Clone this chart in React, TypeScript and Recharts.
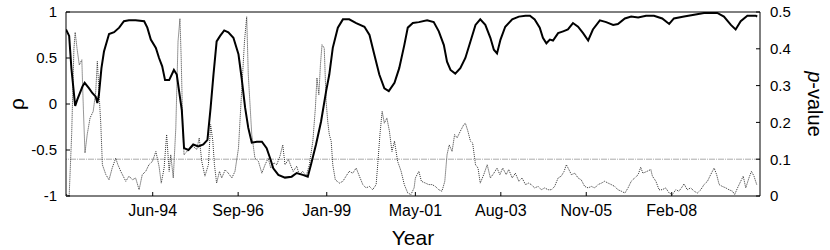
import React from 'react';
import { LineChart, Line, XAxis, YAxis, ReferenceLine } from 'recharts';

// x values are months counted from Jan-1992 (0 = Jan-92)
const tickMonths = [29, 56, 84, 112, 139, 166, 193];
const tickLabels = ['Jun-94', 'Sep-96', 'Jan-99', 'May-01', 'Aug-03', 'Nov-05', 'Feb-08'];
const rhoTicks = [-1, -0.5, 0, 0.5, 1];
const pTicks = [0, 0.1, 0.2, 0.3, 0.4, 0.5];
const pThreshold = 0.1;

const rhoSeries: [number, number][] = [
  [1.6, 0.81], [2.6, 0.74], [3.3, 0.39], [4.5, -0.02], [5.2, 0.05], [6.8, 0.19], [7.5, 0.23], [8.9, 0.17],
  [9.9, 0.12], [11.0, 0.08], [11.5, 0.01], [12.0, 0.1], [12.8, 0.39], [13.6, 0.57], [15.2, 0.76], [16.8, 0.78],
  [18.4, 0.83], [19.9, 0.9], [21.5, 0.91], [23.6, 0.91], [26.3, 0.9], [27.3, 0.83], [28.4, 0.7], [30.0, 0.61],
  [31.0, 0.5], [32.0, 0.41], [32.9, 0.26], [34.2, 0.26], [35.7, 0.37], [36.6, 0.32], [38.2, -0.07], [38.9, -0.48],
  [40.3, -0.5], [41.8, -0.44], [43.4, -0.46], [45.0, -0.44], [46.3, -0.39], [47.3, -0.04], [48.2, 0.32], [49.2, 0.68],
  [50.3, 0.74], [51.6, 0.8], [52.9, 0.78], [54.5, 0.72], [56.1, 0.54], [57.1, 0.28], [58.2, -0.04], [59.2, -0.26],
  [60.3, -0.42], [61.9, -0.41], [63.5, -0.41], [65.0, -0.48], [66.1, -0.59], [67.1, -0.7], [68.7, -0.77], [70.8, -0.8],
  [72.9, -0.79], [74.5, -0.75], [76.4, -0.77], [78.0, -0.79], [79.0, -0.66], [80.6, -0.44], [82.2, -0.19], [83.8, 0.14],
  [84.8, 0.32], [85.9, 0.61], [87.5, 0.83], [89.1, 0.92], [91.1, 0.92], [93.3, 0.88], [95.9, 0.84], [97.5, 0.75],
  [99.0, 0.54], [100.6, 0.32], [102.2, 0.17], [103.6, 0.14], [105.4, 0.23], [106.9, 0.39], [108.5, 0.64], [109.6, 0.83],
  [111.2, 0.88], [113.1, 0.89], [115.7, 0.91], [117.8, 0.89], [119.4, 0.79], [121.0, 0.64], [122.0, 0.46], [123.1, 0.37],
  [124.6, 0.33], [126.2, 0.39], [127.8, 0.5], [129.4, 0.68], [131.0, 0.86], [132.5, 0.92], [134.1, 0.86], [135.7, 0.72],
  [136.8, 0.59], [137.8, 0.55], [138.9, 0.7], [140.4, 0.84], [142.6, 0.92], [144.7, 0.95], [146.8, 0.96], [148.2, 0.96],
  [149.7, 0.92], [151.3, 0.83], [152.3, 0.72], [153.4, 0.66], [154.5, 0.7], [155.5, 0.69], [157.1, 0.77], [158.7, 0.79],
  [160.2, 0.81], [161.8, 0.88], [163.4, 0.84], [165.0, 0.77], [166.6, 0.69], [168.1, 0.81], [170.3, 0.91], [172.3, 0.89],
  [174.5, 0.86], [176.0, 0.87], [178.2, 0.93], [180.2, 0.95], [182.4, 0.94], [184.9, 0.96], [187.4, 0.96], [190.0, 0.93],
  [192.2, 0.87], [193.7, 0.93], [196.9, 0.95], [200.1, 0.97], [203.2, 0.99], [207.4, 0.99], [209.5, 0.95], [211.7, 0.86],
  [213.2, 0.81], [214.8, 0.9], [216.9, 0.96], [219.6, 0.96], [220.0, 0.95],
];

const pSeries: [number, number][] = [
  [1.6, 0.005], [2.6, 0.0], [3.4, 0.17], [4.1, 0.4], [4.5, 0.445], [5.1, 0.4], [5.8, 0.356], [6.6, 0.37],
  [7.1, 0.234], [7.6, 0.117], [8.3, 0.167], [9.2, 0.212], [10.2, 0.23], [11.0, 0.284], [11.5, 0.366], [12.6, 0.194],
  [13.1, 0.085], [14.2, 0.058], [15.2, 0.044], [16.2, 0.076], [17.3, 0.103], [18.0, 0.085], [18.9, 0.067], [20.5, 0.04],
  [21.5, 0.054], [22.6, 0.044], [23.6, 0.049], [24.7, 0.017], [25.7, 0.058], [26.8, 0.067], [27.8, 0.085], [28.9, 0.094],
  [30.0, 0.121], [31.0, 0.081], [31.7, 0.035], [32.6, 0.076], [33.4, 0.167], [34.2, 0.067], [34.7, 0.112], [35.5, 0.049],
  [36.3, 0.185], [37.0, 0.42], [37.6, 0.482], [38.0, 0.375], [38.5, 0.185], [38.9, 0.112], [39.8, 0.121], [40.8, 0.13],
  [41.8, 0.135], [42.9, 0.126], [43.7, 0.158], [44.5, 0.094], [45.5, 0.054], [46.6, 0.085], [47.3, 0.194], [48.0, 0.149],
  [48.5, 0.085], [49.2, 0.035], [50.1, 0.067], [50.8, 0.049], [51.9, 0.071], [52.9, 0.062], [54.0, 0.049], [55.0, 0.067],
  [56.1, 0.13], [57.1, 0.284], [58.0, 0.42], [58.7, 0.487], [59.2, 0.33], [60.3, 0.167], [61.3, 0.103], [62.4, 0.094],
  [63.5, 0.062], [64.5, 0.085], [65.5, 0.103], [66.3, 0.076], [67.3, 0.09], [68.2, 0.085], [69.2, 0.108], [70.1, 0.139],
  [70.8, 0.085], [71.9, 0.099], [72.7, 0.081], [73.4, 0.067], [74.5, 0.081], [75.3, 0.058], [76.4, 0.067], [77.5, 0.054],
  [78.5, 0.085], [79.6, 0.149], [80.4, 0.239], [80.9, 0.321], [81.5, 0.275], [82.0, 0.357], [82.5, 0.411], [83.2, 0.402],
  [83.8, 0.257], [84.3, 0.203], [84.8, 0.167], [85.4, 0.149], [85.9, 0.085], [86.7, 0.044], [88.0, 0.035], [89.1, 0.04],
  [90.1, 0.054], [91.1, 0.067], [92.2, 0.062], [93.3, 0.076], [94.3, 0.054], [95.4, 0.031], [96.4, 0.022], [97.5, 0.026],
  [98.5, 0.017], [99.6, 0.031], [100.1, 0.085], [100.8, 0.167], [101.5, 0.23], [102.2, 0.198], [103.0, 0.212], [103.8, 0.176],
  [104.6, 0.121], [105.4, 0.149], [106.4, 0.094], [107.5, 0.067], [108.5, 0.031], [109.6, 0.008], [110.6, 0.004], [111.6, 0.022],
  [112.0, 0.049], [113.1, 0.067], [113.9, 0.04], [115.2, 0.035], [116.2, 0.031], [117.3, 0.031], [118.3, 0.026], [119.4, 0.017],
  [120.4, 0.013], [121.3, 0.04], [122.0, 0.112], [122.7, 0.139], [123.6, 0.121], [124.4, 0.167], [125.2, 0.158], [126.2, 0.176],
  [127.3, 0.194], [127.8, 0.198], [128.6, 0.176], [129.4, 0.149], [130.1, 0.144], [131.0, 0.085], [131.8, 0.076], [132.5, 0.035],
  [133.6, 0.058], [134.7, 0.085], [135.7, 0.049], [136.8, 0.062], [137.8, 0.076], [138.7, 0.058], [139.6, 0.076], [140.7, 0.058],
  [141.5, 0.072], [142.6, 0.049], [143.6, 0.062], [144.7, 0.04], [145.7, 0.049], [146.8, 0.031], [147.8, 0.035], [148.6, 0.031],
  [149.7, 0.022], [150.8, 0.026], [151.8, 0.017], [152.9, 0.022], [153.9, 0.017], [155.0, 0.017], [156.0, 0.026], [157.1, 0.049],
  [158.1, 0.054], [159.0, 0.067], [159.7, 0.085], [160.5, 0.072], [161.3, 0.058], [162.4, 0.062], [163.4, 0.049], [164.4, 0.044],
  [165.5, 0.026], [166.6, 0.022], [167.6, 0.026], [168.7, 0.022], [169.7, 0.031], [170.8, 0.035], [171.8, 0.04], [172.9, 0.035],
  [173.9, 0.031], [175.0, 0.026], [176.0, 0.017], [177.1, 0.013], [178.2, 0.008], [179.2, 0.022], [180.2, 0.04], [181.3, 0.049],
  [182.4, 0.058], [183.2, 0.078], [183.9, 0.062], [185.2, 0.067], [186.4, 0.072], [186.9, 0.054], [188.0, 0.04], [189.0, 0.017],
  [190.0, 0.017], [191.1, 0.022], [192.2, 0.008], [193.2, 0.004], [194.3, 0.017], [195.3, 0.013], [196.4, 0.026], [196.9, 0.033],
  [197.9, 0.017], [199.0, 0.022], [200.1, 0.013], [201.1, 0.008], [202.2, 0.017], [203.2, 0.031], [204.3, 0.04], [205.3, 0.058],
  [206.4, 0.076], [207.2, 0.058], [208.0, 0.031], [209.0, 0.026], [210.1, 0.022], [211.1, 0.017], [212.2, 0.013], [212.9, 0.004],
  [213.8, 0.022], [214.8, 0.04], [215.6, 0.054], [216.4, 0.022], [217.4, 0.049], [218.2, 0.067], [219.0, 0.054], [219.9, 0.03],
];

const rhoData = rhoSeries.map(([m, v]) => ({ m, rho: v }));
const pData = pSeries.map(([m, v]) => ({ m, p: v }));

const FONT = '"Liberation Sans", Arial, Helvetica, sans-serif';
const tickStyle = { fill: '#000', fontSize: 15, fontFamily: FONT };

const YearLabel = (props: any) => {
  const vb = props.viewBox || { x: 66, y: 196, width: 694, height: 54 };
  return (
    <text x={vb.x + vb.width / 2} y={vb.y + 49} textAnchor="middle" fontSize={21} fontFamily={FONT} fill="#000">
      Year
    </text>
  );
};

const RhoLabel = (props: any) => {
  const vb = props.viewBox || { x: 0, y: 12, width: 66, height: 184 };
  const cx = vb.x + 16;
  const cy = vb.y + vb.height / 2;
  return (
    <text x={cx} y={cy} transform={`rotate(-90 ${cx} ${cy})`} textAnchor="middle" dominantBaseline="central" fontSize={21} fontFamily={FONT} fill="#000">
      ρ
    </text>
  );
};

const PLabel = (props: any) => {
  const vb = props.viewBox || { x: 760, y: 12, width: 70, height: 184 };
  const cx = vb.x + 55;
  const cy = vb.y + vb.height / 2;
  return (
    <text x={cx} y={cy} transform={`rotate(90 ${cx} ${cy})`} textAnchor="middle" dominantBaseline="central" fontSize={20} fontFamily={FONT} fill="#000">
      <tspan fontStyle="italic">p</tspan>-value
    </text>
  );
};

export default function App() {
  return (
    <div style={{ position: 'absolute', left: 0, top: 0, width: 830, height: 250, background: '#fff' }}>
      <LineChart width={830} height={250} margin={{ top: 11, right: 0, bottom: 0, left: 0 }}>
        <XAxis
          xAxisId="b"
          dataKey="m"
          type="number"
          domain={[1.6, 220.9]}
          allowDataOverflow
          ticks={tickMonths}
          interval={0}
          tickFormatter={(v: number) => tickLabels[tickMonths.indexOf(v)] ?? ''}
          height={54}
          tickSize={-4}
          tickMargin={13}
          stroke="#000"
          tick={{ ...tickStyle, fontSize: 16 }}
          label={<YearLabel />}
        />
        <XAxis
          xAxisId="t"
          orientation="top"
          dataKey="m"
          type="number"
          domain={[1.6, 220.9]}
          allowDataOverflow
          ticks={tickMonths}
          interval={0}
          height={1}
          tickSize={-4}
          tick={false}
          stroke="#000"
        />
        <YAxis
          yAxisId="l"
          type="number"
          domain={[-1, 1]}
          ticks={rhoTicks}
          interval={0}
          width={66}
          tickSize={-4}
          tickMargin={13}
          stroke="#000"
          tick={tickStyle}
          tickFormatter={(v: number) => String(v)}
          label={<RhoLabel />}
        />
        <YAxis
          yAxisId="r"
          orientation="right"
          type="number"
          domain={[0, 0.5]}
          ticks={pTicks}
          interval={0}
          width={70}
          tickSize={-4}
          tickMargin={14}
          stroke="#000"
          tick={tickStyle}
          tickFormatter={(v: number) => String(v)}
          label={<PLabel />}
        />
        <ReferenceLine xAxisId="b" yAxisId="r" y={pThreshold} stroke="#aaaaaa" strokeWidth={1} strokeDasharray="6 1 1 1" />
        <Line
          xAxisId="b"
          yAxisId="r"
          data={pData}
          dataKey="p"
          type="linear"
          stroke="#333"
          strokeWidth={1}
          strokeDasharray="1 1"
          dot={false}
          isAnimationActive={false}
        />
        <Line
          xAxisId="b"
          yAxisId="l"
          data={rhoData}
          dataKey="rho"
          type="linear"
          stroke="#000"
          strokeWidth={2}
          dot={false}
          isAnimationActive={false}
        />
      </LineChart>
    </div>
  );
}
